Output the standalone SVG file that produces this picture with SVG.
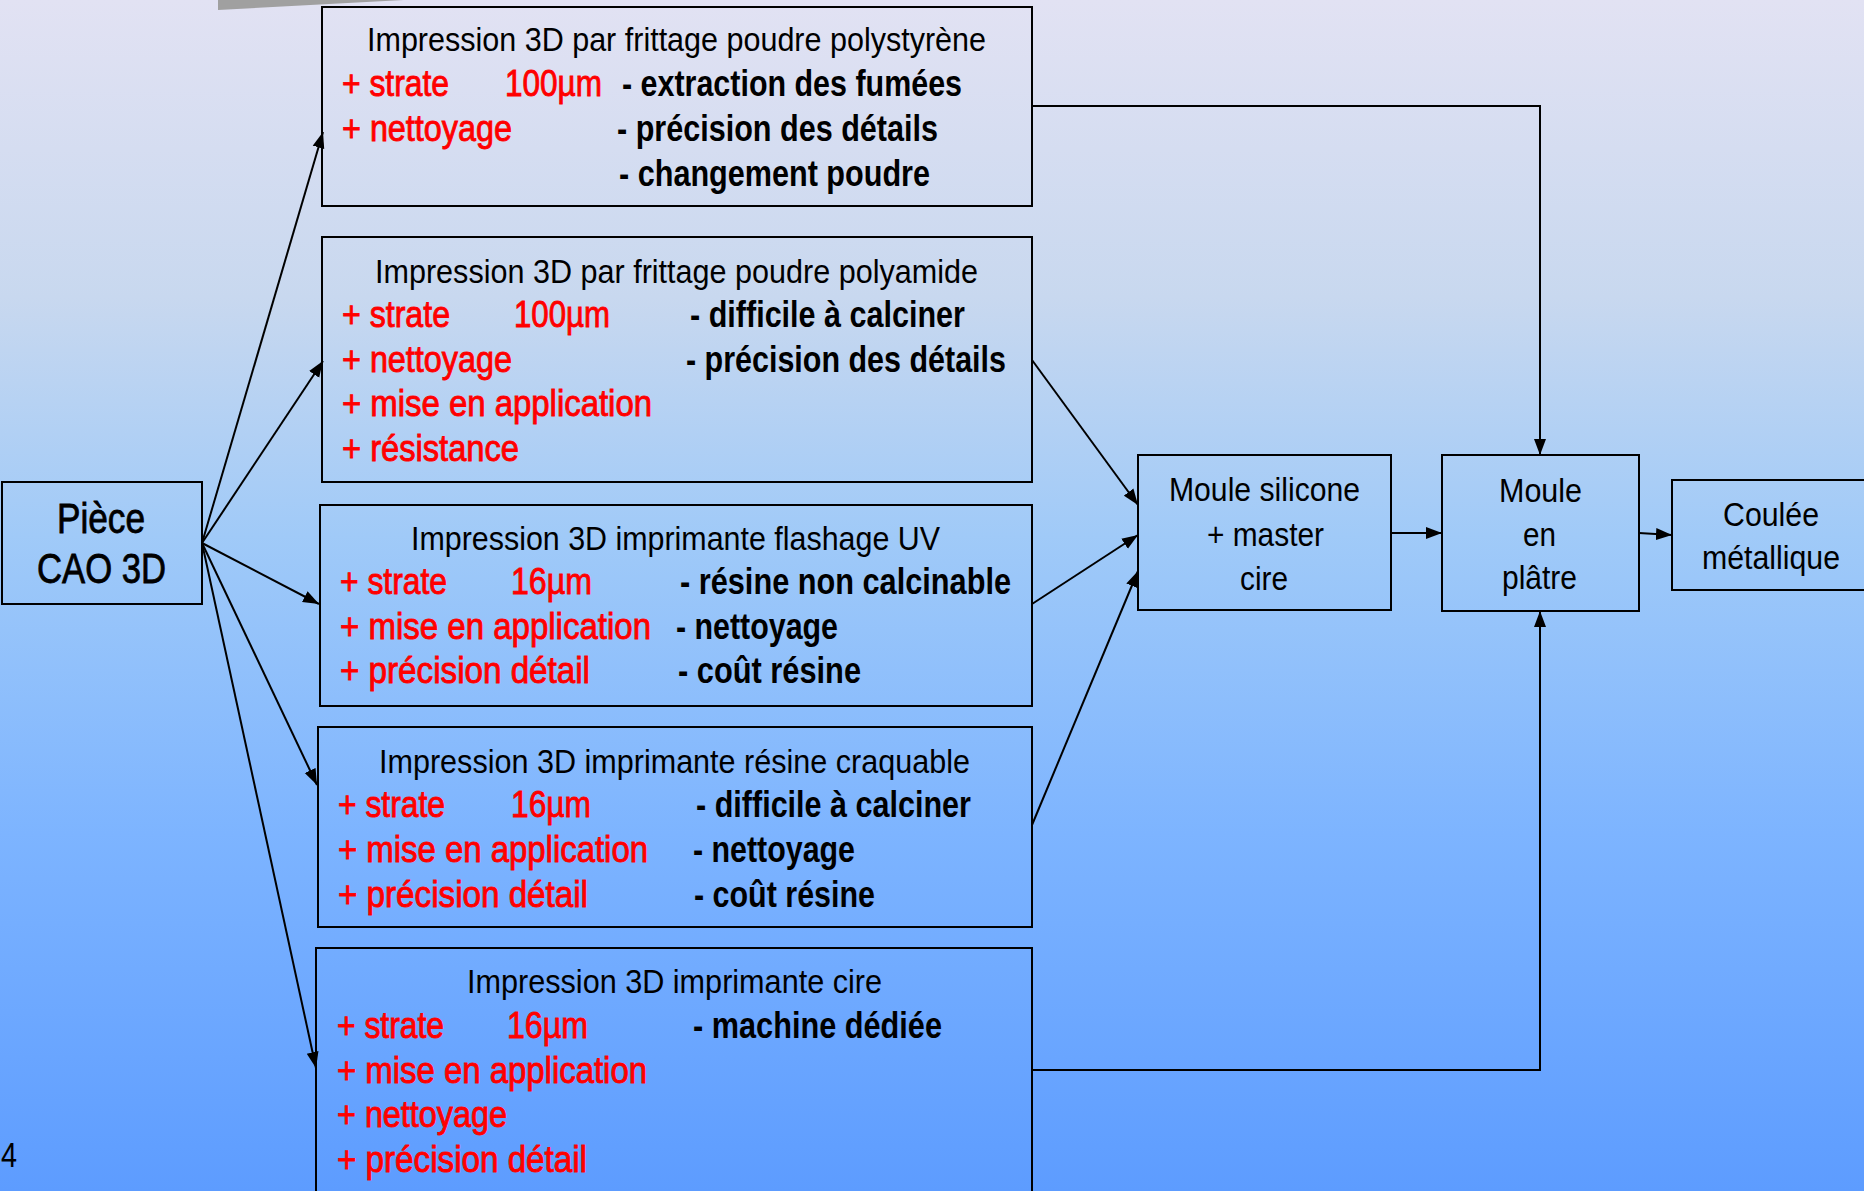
<svg xmlns="http://www.w3.org/2000/svg" width="1864" height="1191" viewBox="0 0 1864 1191">
<defs>
<linearGradient id="bg" x1="0" y1="0" x2="0" y2="1">
<stop offset="0" stop-color="#E2E2F3"/>
<stop offset="0.25" stop-color="#C8D8EF"/>
<stop offset="0.45" stop-color="#A0CAF8"/>
<stop offset="0.7" stop-color="#7DB4FF"/>
<stop offset="1" stop-color="#5D9CFF"/>
</linearGradient>
<marker id="arr" markerUnits="userSpaceOnUse" markerWidth="17" markerHeight="13" refX="16" refY="6.5" orient="auto">
<path d="M0,0.5 L16,6.5 L0,12.5 z" fill="#000"/>
</marker>
<style>
.box{fill:none;stroke:#000;stroke-width:2}
text{font-family:'Liberation Sans Narrow','Liberation Sans',Arial,sans-serif}
.t{font-size:33px;fill:#000}
.r{font-size:37px;fill:#FF0000;stroke:#FF0000;stroke-width:0.9}
.k{font-size:37px;font-weight:bold;fill:#000}
.big{font-size:42px;fill:#000;stroke:#000;stroke-width:0.8}
.m{font-size:34px;fill:#000}
.c{fill:none;stroke:#000;stroke-width:2}
</style>
</defs>
<rect x="0" y="0" width="1864" height="1191" fill="url(#bg)"/>
<polygon points="218,0 404,0 218,10" fill="#A0A0A0"/>
<text x="1" y="1167" style="font-size:35px" textLength="16" lengthAdjust="spacingAndGlyphs">4</text>

<g id="connectors">
<line class="c" x1="202" y1="543" x2="323" y2="132" marker-end="url(#arr)"/>
<line class="c" x1="202" y1="543" x2="323" y2="361" marker-end="url(#arr)"/>
<line class="c" x1="202" y1="543" x2="319" y2="604" marker-end="url(#arr)"/>
<line class="c" x1="202" y1="543" x2="317" y2="785" marker-end="url(#arr)"/>
<line class="c" x1="202" y1="543" x2="316" y2="1068" marker-end="url(#arr)"/>
<polyline class="c" points="1032,106 1540,106 1540,455" marker-end="url(#arr)"/>
<polyline class="c" points="1032,1070 1540,1070 1540,611" marker-end="url(#arr)"/>
<line class="c" x1="1032" y1="360" x2="1138" y2="505" marker-end="url(#arr)"/>
<line class="c" x1="1032" y1="604" x2="1138" y2="535" marker-end="url(#arr)"/>
<line class="c" x1="1032" y1="825" x2="1138" y2="571" marker-end="url(#arr)"/>
<line class="c" x1="1391" y1="533" x2="1442" y2="533" marker-end="url(#arr)"/>
<line class="c" x1="1639" y1="533" x2="1672" y2="535" marker-end="url(#arr)"/>
</g>

<g id="piece">
<rect class="box" x="2" y="482" width="200" height="122"/>
<text class="big" x="57" y="533" textLength="88" lengthAdjust="spacingAndGlyphs">Pièce</text>
<text class="big" x="37" y="583" textLength="129" lengthAdjust="spacingAndGlyphs">CAO 3D</text>
</g>

<g id="polystyrene">
<rect class="box" x="322" y="7" width="710" height="199"/>
<text class="t" x="367" y="51" textLength="619" lengthAdjust="spacingAndGlyphs">Impression 3D par frittage poudre polystyrène</text>
<text class="r" x="342" y="96" textLength="107" lengthAdjust="spacingAndGlyphs">+ strate</text>
<text class="r" x="505" y="96" textLength="97" lengthAdjust="spacingAndGlyphs">100µm</text>
<text class="k" x="622" y="96" textLength="340" lengthAdjust="spacingAndGlyphs">- extraction des fumées</text>
<text class="r" x="342" y="141" textLength="170" lengthAdjust="spacingAndGlyphs">+ nettoyage</text>
<text class="k" x="617" y="141" textLength="321" lengthAdjust="spacingAndGlyphs">- précision des détails</text>
<text class="k" x="619" y="186" textLength="311" lengthAdjust="spacingAndGlyphs">- changement poudre</text>
</g>

<g id="polyamide">
<rect class="box" x="322" y="237" width="710" height="245"/>
<text class="t" x="375" y="283" textLength="603" lengthAdjust="spacingAndGlyphs">Impression 3D par frittage poudre polyamide</text>
<text class="r" x="342" y="327" textLength="108" lengthAdjust="spacingAndGlyphs">+ strate</text>
<text class="r" x="514" y="327" textLength="96" lengthAdjust="spacingAndGlyphs">100µm</text>
<text class="k" x="690" y="327" textLength="275" lengthAdjust="spacingAndGlyphs">- difficile à calciner</text>
<text class="r" x="342" y="372" textLength="170" lengthAdjust="spacingAndGlyphs">+ nettoyage</text>
<text class="k" x="686" y="372" textLength="320" lengthAdjust="spacingAndGlyphs">- précision des détails</text>
<text class="r" x="342" y="416" textLength="310" lengthAdjust="spacingAndGlyphs">+ mise en application</text>
<text class="r" x="342" y="461" textLength="177" lengthAdjust="spacingAndGlyphs">+ résistance</text>
</g>

<g id="flashage">
<rect class="box" x="320" y="505" width="712" height="201"/>
<text class="t" x="411" y="550" textLength="529" lengthAdjust="spacingAndGlyphs">Impression 3D imprimante flashage UV</text>
<text class="r" x="340" y="594" textLength="107" lengthAdjust="spacingAndGlyphs">+ strate</text>
<text class="r" x="511" y="594" textLength="81" lengthAdjust="spacingAndGlyphs">16µm</text>
<text class="k" x="680" y="594" textLength="331" lengthAdjust="spacingAndGlyphs">- résine non calcinable</text>
<text class="r" x="340" y="639" textLength="311" lengthAdjust="spacingAndGlyphs">+ mise en application</text>
<text class="k" x="676" y="639" textLength="162" lengthAdjust="spacingAndGlyphs">- nettoyage</text>
<text class="r" x="340" y="683" textLength="250" lengthAdjust="spacingAndGlyphs">+ précision détail</text>
<text class="k" x="678" y="683" textLength="183" lengthAdjust="spacingAndGlyphs">- coût résine</text>
</g>

<g id="craquable">
<rect class="box" x="318" y="727" width="714" height="200"/>
<text class="t" x="379" y="773" textLength="591" lengthAdjust="spacingAndGlyphs">Impression 3D imprimante résine craquable</text>
<text class="r" x="338" y="817" textLength="107" lengthAdjust="spacingAndGlyphs">+ strate</text>
<text class="r" x="511" y="817" textLength="80" lengthAdjust="spacingAndGlyphs">16µm</text>
<text class="k" x="696" y="817" textLength="275" lengthAdjust="spacingAndGlyphs">- difficile à calciner</text>
<text class="r" x="338" y="862" textLength="310" lengthAdjust="spacingAndGlyphs">+ mise en application</text>
<text class="k" x="693" y="862" textLength="162" lengthAdjust="spacingAndGlyphs">- nettoyage</text>
<text class="r" x="338" y="907" textLength="250" lengthAdjust="spacingAndGlyphs">+ précision détail</text>
<text class="k" x="694" y="907" textLength="181" lengthAdjust="spacingAndGlyphs">- coût résine</text>
</g>

<g id="cire">
<rect class="box" x="316" y="948" width="716" height="262"/>
<text class="t" x="467" y="993" textLength="415" lengthAdjust="spacingAndGlyphs">Impression 3D imprimante cire</text>
<text class="r" x="337" y="1038" textLength="107" lengthAdjust="spacingAndGlyphs">+ strate</text>
<text class="r" x="507" y="1038" textLength="81" lengthAdjust="spacingAndGlyphs">16µm</text>
<text class="k" x="693" y="1038" textLength="249" lengthAdjust="spacingAndGlyphs">- machine dédiée</text>
<text class="r" x="337" y="1083" textLength="310" lengthAdjust="spacingAndGlyphs">+ mise en application</text>
<text class="r" x="337" y="1127" textLength="170" lengthAdjust="spacingAndGlyphs">+ nettoyage</text>
<text class="r" x="337" y="1172" textLength="250" lengthAdjust="spacingAndGlyphs">+ précision détail</text>
</g>

<g id="silicone">
<rect class="box" x="1138" y="455" width="253" height="155"/>
<text class="m" x="1169" y="501" textLength="191" lengthAdjust="spacingAndGlyphs">Moule silicone</text>
<text class="m" x="1207" y="546" textLength="117" lengthAdjust="spacingAndGlyphs">+ master</text>
<text class="m" x="1240" y="590" textLength="48" lengthAdjust="spacingAndGlyphs">cire</text>
</g>

<g id="platre">
<rect class="box" x="1442" y="455" width="197" height="156"/>
<text class="m" x="1499" y="502" textLength="83" lengthAdjust="spacingAndGlyphs">Moule</text>
<text class="m" x="1523" y="546" textLength="33" lengthAdjust="spacingAndGlyphs">en</text>
<text class="m" x="1502" y="589" textLength="75" lengthAdjust="spacingAndGlyphs">plâtre</text>
</g>

<g id="coulee">
<rect class="box" x="1672" y="480" width="200" height="110"/>
<text class="m" x="1723" y="526" textLength="96" lengthAdjust="spacingAndGlyphs">Coulée</text>
<text class="m" x="1702" y="569" textLength="138" lengthAdjust="spacingAndGlyphs">métallique</text>
</g>
</svg>
